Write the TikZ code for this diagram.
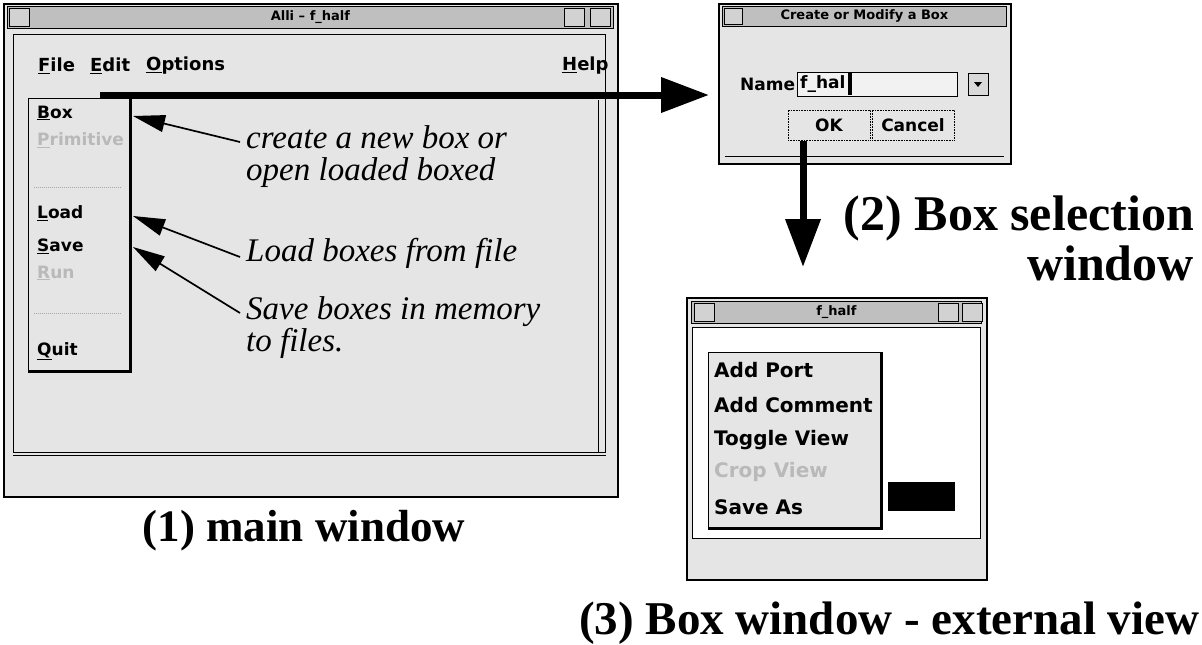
\documentclass[tikz,border=0pt]{standalone}
\usepackage{fontspec}
\setmainfont{Liberation Serif}
\newfontfamily\uifont{DejaVu Sans}
\usetikzlibrary{arrows.meta}
\begin{document}
\begin{tikzpicture}[x=1pt,y=-1pt,
 win/.style={draw=black, line width=1.8pt, fill=gray!20, inner sep=0pt, anchor=north west},
 tbar/.style={draw=black, line width=0.8pt, fill=gray!50, inner sep=0pt, anchor=north west, font=\uifont\bfseries\fontsize{13}{15}\selectfont},
 panel/.style={draw=black, line width=0.9pt, fill=gray!20, inner sep=0pt, anchor=north west},
 tbtn/.style={draw=black, line width=0.8pt, fill=gray!35, inner sep=0pt, minimum width=20, minimum height=18, anchor=north west},
 ui/.style={font=\uifont\bfseries\fontsize{18}{21}\selectfont, inner sep=0pt, anchor=west},
 mi/.style={font=\uifont\bfseries\fontsize{17}{20}\selectfont, inner sep=0pt, anchor=west},
 pi/.style={font=\uifont\bfseries\fontsize{20}{23}\selectfont, inner sep=0pt, anchor=west},
 dui/.style={font=\uifont\bfseries\fontsize{17}{20}\selectfont, inner sep=0pt},
 note/.style={font=\itshape\fontsize{33}{32}\selectfont, align=left, anchor=north west, inner sep=0pt},
 lab/.style={font=\bfseries\fontsize{47}{50}\selectfont, inner sep=0pt},
 bigarrow/.style={line width=7pt, -{Triangle[length=48pt,width=34pt]}},
 ptr/.style={line width=1.7pt, -{Triangle[length=32pt,width=17pt]}},
 sep/.style={gray!70, line width=1pt, densely dotted}
]
\useasboundingbox (0,0) rectangle (1202,645);

% ---------- (1) main window ----------
\node[win, minimum width=614, minimum height=493] (mainwin) at (3,3) {};
\node[tbar, minimum width=606, minimum height=22] (maintitle) at (7,6) {Alli – f\_half};
\node[tbtn] (mclose) at (9,8) {};
\node[tbtn] (mmin) at (564,8) {};
\node[tbtn] (mmax) at (590,8) {};
\node[draw=black, line width=0.8pt, inner sep=0pt, minimum width=592, minimum height=418, anchor=north west] (client) at (13,34) {};
\draw[line width=0.8pt] (client.west |- 0,455) -- (client.east |- 0,455);
\draw[line width=0.8pt] (598,100) -- (598,452);

\node[ui] (mfile) at (38,66) {\underline{F}ile};
\node[ui] (medit) at (90,66) {\underline{E}dit};
\node[ui] (mopt) at (146,66) {\underline{O}ptions};
\node[ui] (mhelp) at (562,66) {\underline{H}elp};

\node[panel, minimum width=101, minimum height=272] (drop) at (28,98) {};
\draw[line width=2.4pt] ([xshift=1pt]drop.north east) -- ([xshift=1pt,yshift=-1pt]drop.south east) -- ([yshift=-1pt]drop.south west);
\node[mi] (ibox) at (37,113) {\underline{B}ox};
\node[mi, text=gray!55] (iprim) at (37,140) {\underline{P}rimitive};
\draw[sep] (34,187) -- (122,187);
\node[mi] (iload) at (37,213) {\underline{L}oad};
\node[mi] (isave) at (37,246) {\underline{S}ave};
\node[mi, text=gray!55] (irun) at (37,273) {\underline{R}un};
\draw[sep] (34,313) -- (122,313);
\node[mi] (iquit) at (37,351) {\underline{Q}uit};

\node[note] (n1) at (246,125) {create a new box or\\open loaded boxed};
\node[note] (n2) at (246,238) {Load boxes from file};
\node[note] (n3) at (246,296) {Save boxes in memory\\to files.};

\coordinate (t1) at (133,116);
\coordinate (t2) at (133,216);
\coordinate (t3) at (133,247);
\draw[ptr] ([shift={(-6,17)}]n1.north west) -- (t1);
\draw[ptr] ([shift={(-6,19)}]n2.north west) -- (t2);
\draw[ptr] ([shift={(-6,17)}]n3.north west) -- (t3);

\node[lab, font=\bfseries\fontsize{45}{48}\selectfont] (lab1) at (304,531) {(1) main window};

% ---------- (2) dialog ----------
\node[win, minimum width=292, minimum height=160] (dlg) at (718,3) {};
\node[tbar, minimum width=284, minimum height=20] (dtitle) at (722,6) {Create or Modify a Box};
\node[tbtn, minimum width=18, minimum height=16] (dclose) at (724,8) {};
\node[dui, anchor=west] (dname) at (740,84) {Name};
\node[draw=black, line width=0.6pt, fill=gray!10, minimum width=160, minimum height=24, inner sep=0pt, anchor=west] (dfield) at (797,84) {};
\node[dui, anchor=west] (dval) at (800,84) {f\_hal};
\node[fill=black, minimum width=4, minimum height=22, inner sep=0pt, anchor=west] (dcur) at ([xshift=2pt]dval.east) {};
\node[draw=black, line width=1pt, fill=gray!30, minimum width=20, minimum height=22, inner sep=0pt] (dbtn) at (978,84) {};
\fill (dbtn.center) ++(-4,-2) -- ++(8,0) -- ++(-4,5) -- cycle;
\node[draw=black, line width=0.6pt, densely dotted, fill=gray!20, minimum width=82, minimum height=30, inner sep=0pt, dui] (bok) at (829,125) {OK};
\node[draw=black, line width=0.6pt, densely dotted, fill=gray!20, minimum width=82, minimum height=30, inner sep=0pt, dui] (bcancel) at (913,125) {Cancel};
\draw[line width=1pt] (725,156) -- (1004,156);

\coordinate (bstart) at (100,95);
\draw[bigarrow] (bstart) -- ([xshift=-9pt]dlg.west |- bstart);
\coordinate (dstart) at (803,141);

\node[lab, align=right, anchor=north east, font=\bfseries\fontsize{50}{50}\selectfont] (lab2) at (1194,196) {(2) Box selection\\window};

% ---------- (3) box window ----------
\node[win, minimum width=300, minimum height=282] (boxwin) at (686,297) {};
\draw[bigarrow] (dstart) -- ([yshift=30pt]dstart |- boxwin.north);
\node[tbar, minimum width=290, minimum height=22] (btitle) at (691,301) {f\_half};
\node[tbtn] (bclose) at (694,303) {};
\node[tbtn] (bmin) at (938,303) {};
\node[tbtn] (bmax) at (962,303) {};
\node[draw=black, line width=0.8pt, fill=white, minimum width=288, minimum height=211, inner sep=0pt, anchor=north west] (bclient) at (692,327) {};
\node[panel, minimum width=172, minimum height=175] (popup) at (708,352) {};
\draw[line width=2.2pt] ([xshift=1pt]popup.north east) -- ([xshift=1pt,yshift=-1pt]popup.south east) -- ([yshift=-1pt]popup.south west);
\node[pi] (padd) at (714,370) {Add Port};
\node[pi] (pcom) at (714,405) {Add Comment};
\node[pi] (ptog) at (714,440) {Toggle View};
\node[pi, text=gray!55] (pcrop) at (714,472) {Crop View};
\node[pi] (psave) at (714,507) {Save As};
\node[fill=black, minimum width=67, minimum height=29, inner sep=0pt, anchor=north west] (bport) at (888,482) {};

\node[lab, anchor=west] (lab3) at (579,623) {(3) Box window - external view};
\end{tikzpicture}
\end{document}
